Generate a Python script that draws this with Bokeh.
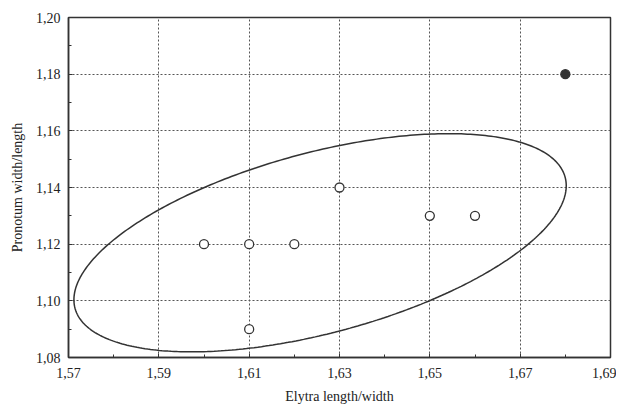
import numpy as np
from bokeh.plotting import figure
from bokeh.models import FixedTicker, CustomJSTickFormatter, Range1d
from bokeh.embed import file_html
from bokeh.resources import INLINE

# Data
x_open = [1.60, 1.61, 1.62, 1.61, 1.63, 1.65, 1.66]
y_open = [1.12, 1.12, 1.12, 1.09, 1.14, 1.13, 1.13]
x_filled = [1.68]
y_filled = [1.18]

x_ticks = [1.57, 1.59, 1.61, 1.63, 1.65, 1.67, 1.69]
y_ticks = [1.08, 1.10, 1.12, 1.14, 1.16, 1.18, 1.20]

# Ellipse (confidence region) parameters
ell_center = (1.6257, 1.1205)
ell_ax = 0.0545    # half-extent in x
ell_by = 0.0385    # half-extent in y
ell_phase = np.deg2rad(58.5)

t = np.linspace(0, 2 * np.pi, 400)
ell_x = ell_center[0] + ell_ax * np.cos(t)
ell_y = ell_center[1] + ell_by * np.cos(t + ell_phase)

FONT = "Liberation Serif"
INK = "#333333"

p = figure(frame_width=542, frame_height=340, output_backend="svg", toolbar_location=None,
           x_range=Range1d(1.57, 1.69), y_range=Range1d(1.08, 1.20),
           min_border_left=68, min_border_right=6, min_border_top=17, min_border_bottom=0)

p.background_fill_color = "white"
p.border_fill_color = "white"
p.outline_line_color = INK
p.outline_line_width = 1.5

fmt = CustomJSTickFormatter(code="return tick.toFixed(2).replace('.', ',');")

for ax, ticks in ((p.xaxis[0], x_ticks), (p.yaxis[0], y_ticks)):
    ax.ticker = FixedTicker(ticks=ticks, minor_ticks=[(ticks[i] + ticks[i + 1]) / 2 for i in range(len(ticks) - 1)])
    ax.formatter = fmt
    ax.axis_line_color = INK
    ax.axis_line_width = 1.5
    ax.major_tick_in = 4
    ax.major_tick_out = 0
    ax.minor_tick_in = 3
    ax.minor_tick_out = 0
    ax.major_tick_line_color = INK
    ax.minor_tick_line_color = INK
    ax.major_label_text_font = FONT
    ax.major_label_text_font_size = "14px"
    ax.major_label_text_color = "#222222"
    ax.axis_label_text_font = FONT
    ax.axis_label_text_font_size = "14px"
    ax.axis_label_text_font_style = "normal"
    ax.axis_label_text_color = "#222222"

p.xaxis.axis_label = "Elytra length/width"
p.yaxis.axis_label = "Pronotum width/length"
p.xaxis.major_label_standoff = 10
p.xaxis.axis_label_standoff = 8
p.yaxis.major_label_standoff = 8
p.yaxis.axis_label_standoff = 8

for g in (p.xgrid[0], p.ygrid[0]):
    g.grid_line_color = "#555555"
    g.grid_line_dash = "2 2"
    g.grid_line_width = 1

p.line(ell_x, ell_y, line_color=INK, line_width=1.5)

p.scatter(x_open, y_open, marker="circle", size=9, fill_color="white",
          line_color=INK, line_width=1.3)
p.scatter(x_filled, y_filled, marker="circle", size=9, fill_color=INK,
          line_color=INK, line_width=1.3)

open("out.html", "w").write(file_html(p, INLINE))
